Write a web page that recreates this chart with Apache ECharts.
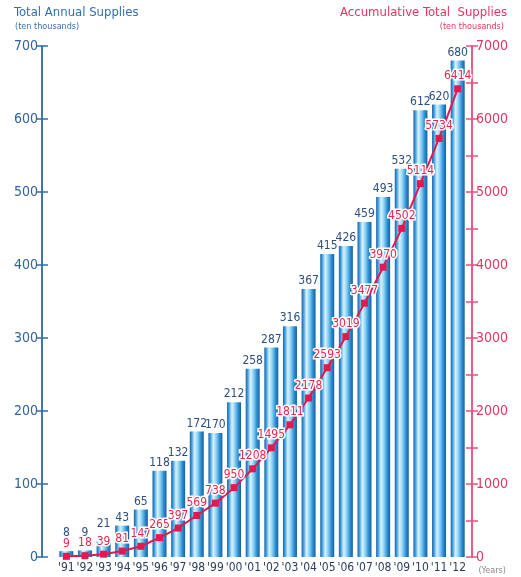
<!DOCTYPE html>
<html>
<head>
<meta charset="utf-8">
<script src="https://cdn.jsdelivr.net/npm/echarts@6/dist/echarts.min.js"></script>
<style>
  html, body { margin: 0; padding: 0; background: #fff; }
  #chart { width: 521px; height: 577px; }
</style>
</head>
<body>
<div id="chart"></div>
<script>
// 年份
var years = ["'91", "'92", "'93", "'94", "'95", "'96", "'97", "'98", "'99", "'00", "'01",
  "'02", "'03", "'04", "'05", "'06", "'07", "'08", "'09", "'10", "'11", "'12"];
// 年度供应量 (ten thousands)
var annualSupplies = [8, 9, 21, 43, 65, 118, 132, 172, 170, 212, 258,
  287, 316, 367, 415, 426, 459, 493, 532, 612, 620, 680];
// 累计供应量 (ten thousands)
var totalSupplies = [9, 18, 39, 81, 147, 265, 397, 569, 738, 950, 1208,
  1495, 1811, 2178, 2593, 3019, 3477, 3970, 4502, 5114, 5734, 6414];

var FONT = "'Liberation Sans Narrow', 'DejaVu Sans Condensed', sans-serif";
var BLUE = "#2f64a0";
var RED = "#e5174f";

var chart = echarts.init(document.getElementById("chart"));

// 柱子的圆柱渐变
var barGradient = new echarts.graphic.LinearGradient(0, 0, 1, 0, [
  { offset: 0, color: "#1c62a8" },
  { offset: 0.12, color: "#3596d6" },
  { offset: 0.35, color: "#d9f3fd" },
  { offset: 0.55, color: "#8fd3f3" },
  { offset: 0.8, color: "#2a8fd4" },
  { offset: 1, color: "#1a5d9f" },
]);

var barData = annualSupplies.map(function (v, i) {
  // 前三个标签让开折线的标签
  return i < 3 ? { value: v, label: { distance: 12 } } : v;
});

var leftAxisBase = {
  type: "value",
  min: 0,
  max: 700,
  interval: 100,
  position: "left",
  offset: 15,
  axisLine: { show: true, lineStyle: { color: "#2d6fb0", width: 1.5 } },
  splitLine: { show: false },
};
var rightAxisBase = {
  type: "value",
  min: 0,
  max: 7000,
  interval: 500,
  position: "right",
  offset: 5,
  axisLine: { show: true, lineStyle: { color: "#e8507a", width: 1.5 } },
  splitLine: { show: false },
};

chart.setOption({
  animation: false,
  backgroundColor: "#fff",
  textStyle: { fontFamily: FONT },
  graphic: [
    {
      type: "text",
      left: 14,
      top: 6,
      style: { text: "Total Annual Supplies", fill: "#2f6fb3", fontSize: 13, fontFamily: FONT },
    },
    {
      type: "text",
      left: 15,
      top: 22,
      style: { text: "(ten thousands)", fill: "#3a6fa8", fontSize: 9, fontFamily: FONT },
    },
    {
      type: "text",
      right: 14,
      top: 6,
      style: { text: "Accumulative Total  Supplies", fill: "#e8345f", fontSize: 13, fontFamily: FONT },
    },
    {
      type: "text",
      right: 17,
      top: 22,
      style: { text: "(ten thousands)", fill: "#e8345f", fontSize: 9, fontFamily: FONT },
    },
    {
      type: "text",
      right: 15,
      top: 566,
      style: { text: "(Years)", fill: "#888", fontSize: 9, fontFamily: FONT },
    },
  ],
  grid: { left: 57, right: 54, top: 46, bottom: 20 },
  xAxis: {
    type: "category",
    data: years,
    boundaryGap: true,
    axisLine: { show: false },
    axisTick: { show: false },
    axisLabel: { color: "#2c3e5c", fontSize: 12, margin: 5, interval: 0, fontFamily: FONT },
  },
  yAxis: [
    Object.assign({}, leftAxisBase, {
      axisTick: { show: true, inside: false, length: 6, lineStyle: { color: "#2d6fb0", width: 1.5 } },
      axisLabel: { color: BLUE, fontSize: 14, margin: 4, fontFamily: FONT },
    }),
    Object.assign({}, rightAxisBase, {
      axisTick: { show: true, inside: false, length: 6, lineStyle: { color: "#e8507a", width: 1.5 } },
      axisLabel: {
        color: "#e8345f",
        fontSize: 14,
        margin: 4,
        fontFamily: FONT,
        formatter: function (v) {
          return v % 1000 === 0 ? String(v) : "";
        },
      },
    }),
    // 内侧刻度，做出十字形刻度
    Object.assign({}, leftAxisBase, {
      axisTick: { show: true, inside: true, length: 6, lineStyle: { color: "#2d6fb0", width: 1.5 } },
      axisLabel: { show: false },
    }),
    Object.assign({}, rightAxisBase, {
      axisTick: { show: true, inside: true, length: 6, lineStyle: { color: "#e8507a", width: 1.5 } },
      axisLabel: { show: false },
    }),
  ],
  series: [
    {
      name: "Total Annual Supplies",
      type: "bar",
      yAxisIndex: 0,
      barWidth: 14,
      itemStyle: { color: barGradient },
      label: {
        show: true,
        position: "top",
        distance: 2,
        color: "#2c4f80",
        fontSize: 12,
        fontFamily: FONT,
      },
      data: barData,
    },
    {
      name: "Accumulative Total Supplies",
      type: "line",
      yAxisIndex: 1,
      symbol: "rect",
      symbolSize: 7,
      showSymbol: true,
      lineStyle: { color: RED, width: 2 },
      itemStyle: { color: RED },
      label: {
        show: true,
        position: "top",
        distance: 3,
        color: "#e8264f",
        fontSize: 12,
        fontFamily: FONT,
        textBorderColor: "#fff",
        textBorderWidth: 3,
      },
      z: 5,
      data: totalSupplies,
    },
  ],
});

window.addEventListener("resize", function () {
  chart.resize();
});
</script>
</body>
</html>
